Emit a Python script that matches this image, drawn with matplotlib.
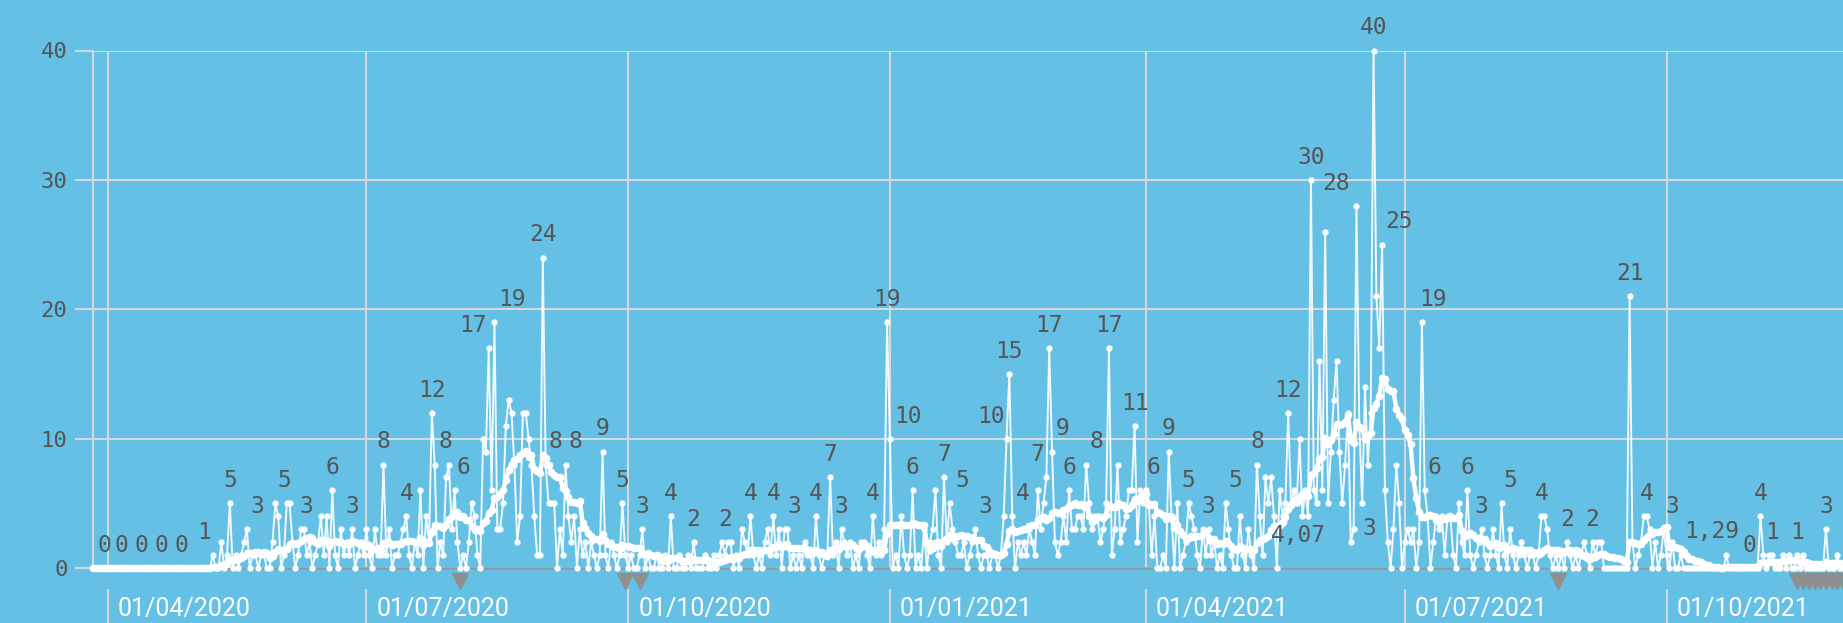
import numpy as np
import pandas as pd
import matplotlib
matplotlib.use("Agg")
import matplotlib.pyplot as plt
import matplotlib.dates as mdates
import matplotlib.transforms as mtransforms

# valeurs journalieres (du 27/03/2020 au 03/12/2021)
mar20 = [0, 0, 0, 0, 0]
apr20 = [0, 0, 0, 0, 0, 0, 0, 0, 0, 0, 0, 0, 0, 0, 0,
         0, 0, 0, 0, 0, 0, 0, 0, 0, 0, 0, 0, 0, 0, 0]
may20 = [0, 0, 0, 0, 0, 0, 0, 1, 0, 0, 2, 0, 1, 5, 0, 1,
         0, 1, 2, 3, 0, 1, 1, 0, 1, 1, 0, 0, 2, 5, 4]
jun20 = [0, 1, 5, 5, 2, 0, 1, 3, 3, 1, 2, 0, 1, 2, 4,
         1, 4, 0, 6, 1, 0, 3, 1, 2, 1, 3, 0, 1, 2, 1]
jul20 = [3, 1, 0, 3, 1, 1, 8, 1, 3, 0, 1, 1, 2, 3, 4, 1,
         0, 2, 1, 6, 0, 4, 2, 12, 8, 0, 2, 1, 7, 8, 3]
aug20 = [6, 2, 0, 1, 0, 2, 5, 4, 1, 0, 10, 9, 17, 6, 19, 3,
         3, 5, 11, 13, 12, 8, 2, 4, 12, 12, 10, 8, 4, 1, 1]
sep20 = [24, 8, 5, 5, 5, 0, 3, 1, 8, 4, 2, 4, 0, 3, 1,
         2, 0, 2, 1, 0, 1, 9, 1, 0, 2, 1, 0, 1, 5, 1]
oct20 = [0, 1, 0, 0, 1, 3, 0, 1, 0, 0, 1, 0, 0, 1, 0, 4,
         0, 0, 1, 0, 0, 1, 0, 2, 0, 0, 0, 1, 0, 0, 1]
nov20 = [0, 1, 2, 1, 2, 2, 0, 1, 0, 3, 2, 1, 4, 1, 0,
         1, 0, 2, 3, 1, 4, 1, 3, 0, 3, 3, 0, 1, 0, 1]
dec20 = [0, 2, 1, 1, 0, 4, 1, 0, 1, 1, 7, 1, 2, 0, 3, 2,
         1, 2, 0, 1, 0, 2, 2, 1, 0, 4, 1, 2, 1, 3, 19]
jan21 = [10, 0, 1, 0, 4, 1, 0, 1, 6, 0, 1, 0, 3, 0, 2, 3,
         6, 1, 0, 7, 2, 5, 3, 2, 1, 1, 2, 0, 1, 2, 3]
feb21 = [1, 0, 1, 1, 0, 1, 1, 0, 1, 4, 10, 15, 4, 0,
         2, 1, 2, 1, 3, 2, 1, 6, 3, 5, 7, 17, 9, 2]
mar21 = [1, 2, 4, 2, 6, 3, 3, 4, 4, 3, 8, 5, 3, 4, 4, 2,
         3, 5, 17, 1, 3, 8, 2, 3, 4, 6, 6, 11, 2, 6, 5]
apr21 = [6, 5, 1, 4, 0, 0, 1, 0, 9, 4, 0, 5, 0, 1, 2,
         5, 4, 3, 1, 0, 3, 1, 3, 1, 2, 0, 1, 0, 5, 3]
may21 = [1, 0, 0, 4, 1, 0, 3, 1, 0, 8, 4, 1, 7, 5, 7, 4,
         0, 6, 4, 5, 12, 5, 6, 5, 10, 4, 6, 4, 30, 6, 5]
jun21 = [16, 6, 26, 5, 9, 13, 16, 9, 5, 8, 12, 2, 3, 28, 11,
         5, 14, 8, 12, 40, 21, 17, 25, 6, 2, 0, 3, 8, 5, 0]
jul21 = [2, 3, 2, 3, 0, 2, 19, 6, 4, 0, 2, 4, 3, 4, 1, 4,
         4, 1, 0, 5, 2, 1, 6, 1, 0, 1, 2, 3, 1, 0, 1]
aug21 = [3, 1, 0, 5, 1, 0, 3, 1, 0, 1, 2, 1, 0, 1, 1, 0,
         1, 4, 4, 3, 1, 0, 1, 0, 1, 0, 2, 1, 0, 1, 0]
sep21 = [1, 2, 1, 0, 2, 1, 2, 2, 0, 0, 0, 0, 0, 0, 0,
         0, 0, 21, 2, 0, 1, 2, 4, 4, 3, 0, 2, 0, 1, 3]
oct21 = [1, 0, 2, 0, 0, 1, 0, 0, 0, 0, 0, 0, 0, 0, 0, 0,
         0, 0, 0, 0, 0, 1, 0, 0, 0, 0, 0, 0, 0, 0, 0]
nov21 = [0, 0, 4, 1, 0, 1, 1, 0, 0, 0, 1, 0, 1, 0, 0,
         1, 0, 1, 0, 0, 0, 0, 0, 0, 0, 3, 0, 0, 0, 1]
dec21 = [0, 0, 1]

# etiquettes des points
lab_dates = ["2020-03-31", "2020-04-06", "2020-04-13", "2020-04-20", "2020-04-27",
             "2020-05-08", "2020-05-14", "2020-05-20", "2020-06-03", "2020-06-09",
             "2020-06-19", "2020-06-26", "2020-07-07", "2020-07-15", "2020-07-24",
             "2020-07-30", "2020-08-01", "2020-08-13", "2020-08-15", "2020-09-01",
             "2020-09-02", "2020-09-09", "2020-09-22", "2020-09-29", "2020-10-06",
             "2020-10-16", "2020-10-24", "2020-11-05", "2020-11-13", "2020-11-21",
             "2020-11-26", "2020-12-06", "2020-12-11", "2020-12-15", "2020-12-26",
             "2020-12-31", "2021-01-01", "2021-01-09", "2021-01-20", "2021-01-22",
             "2021-01-31", "2021-02-11", "2021-02-12", "2021-02-13", "2021-02-25",
             "2021-02-26", "2021-02-27", "2021-03-05", "2021-03-11", "2021-03-19",
             "2021-03-28", "2021-03-30", "2021-04-09", "2021-04-16", "2021-04-23",
             "2021-04-29", "2021-05-10", "2021-05-21", "2021-05-29", "2021-06-14",
             "2021-06-13", "2021-06-20", "2021-06-23", "2021-07-07", "2021-07-08",
             "2021-07-23", "2021-07-28", "2021-08-04", "2021-08-18", "2021-08-27",
             "2021-09-05", "2021-09-18", "2021-09-24", "2021-09-30", "2021-10-30",
             "2021-11-03", "2021-11-07", "2021-11-16", "2021-11-26"]
lab_texts = ["0", "0", "0", "0", "0", "1", "5", "3", "5", "3",
             "6", "3", "8", "4", "12", "8", "6", "17", "19", "24",
             "8", "8", "9", "5", "3", "4", "2", "2", "4", "4",
             "3", "4", "7", "3", "4", "19", "10", "6", "7", "5",
             "3", "10", "15", "4", "7", "17", "9", "6", "8", "17",
             "11", "6", "9", "5", "3", "5", "8", "12", "30", "28",
             "3", "40", "25", "19", "6", "6", "3", "5", "4", "2",
             "2", "21", "4", "3", "0", "4", "1", "1", "3"]
# decalages (px) des etiquettes par rapport a la position standard
lab_dx = [0, 0, 0, 0, 0, -9, 0, 10, -2, 3,
          0, 0, 0, 0, 0, -4, 9, -16, 18, 0,
          10, 10, 0, 0, 0, 0, 0, -3, 0, 0,
          7, 0, 0, 0, 0, 0, 18, 0, 0, 13,
          10, -16, 0, 10, -9, 0, 10, 0, 10, 0,
          0, 13, 0, 0, 0, 10, 0, 0, 0, -20,
          16, 0, 17, 11, 10, 0, 0, 9, 0, 0,
          0, 0, 0, 9, 0, 0, 0, 0, 0]
lab_dy = [0] * 60 + [-22] + [0] * 18

# etiquettes de la moyenne mobile
ma_dates = ["2021-05-28", "2021-10-14"]
ma_texts = ["4,07", "1,29"]
ma_off = [(-10, -40), (8, 33)]

trimestres = ["2020-04-01", "2020-07-01", "2020-10-01", "2021-01-01",
              "2021-04-01", "2021-07-01", "2021-10-01"]
trim_labels = ["01/04/2020", "01/07/2020", "01/10/2020", "01/01/2021",
               "01/04/2021", "01/07/2021", "01/10/2021"]
evenements = ["2020-08-03", "2020-09-30", "2020-10-05", "2021-08-24",
              "2021-11-16", "2021-11-18", "2021-11-20", "2021-11-22",
              "2021-11-24", "2021-11-26", "2021-11-28", "2021-11-30",
              "2021-12-02"]

BG = "#64c0e4"
GRID = "#d3d9dc"
AXE = "#8e9ca4"
LAB = "#555555"
MONO = "DejaVu Sans Mono"

valeurs = (mar20 + apr20 + may20 + jun20 + jul20 + aug20 + sep20 + oct20 + nov20
           + dec20 + jan21 + feb21 + mar21 + apr21 + may21 + jun21 + jul21 + aug21
           + sep21 + oct21 + nov21 + dec21)
jours = pd.date_range("2020-03-27", periods=len(valeurs), freq="D")
serie = pd.Series(valeurs, index=jours, dtype=float)
moyenne = serie.rolling(14, min_periods=1).mean()

W, H = 1843, 623
PX = 72 / 100  # px -> points
fig = plt.figure(figsize=(W / 100, H / 100), dpi=100, facecolor=BG)
ax = fig.add_axes([93.3 / W, 55 / H, 1 - 93.3 / W, 517.5 / H])
ax.set_facecolor(BG)

x0 = mdates.date2num(pd.Timestamp("2020-03-27"))
ax.set_xlim(x0, x0 + 1749.7 / 2.845)
ax.set_ylim(0, 40)

ax.set_yticks([0, 10, 20, 30, 40])
ax.set_xticks([mdates.date2num(pd.Timestamp(d)) for d in trimestres])
ax.grid(True, color=GRID, lw=1.5)
ax.set_axisbelow(True)
ax.tick_params(axis="x", length=0, labelbottom=False)
ax.tick_params(axis="y", length=13, width=1.5, color=GRID, pad=5.5,
               labelsize=16, labelcolor=LAB)
for t in ax.get_yticklabels():
    t.set_fontfamily(MONO)
for s in ["top", "right"]:
    ax.spines[s].set_visible(False)
ax.spines["left"].set_color(GRID)
ax.spines["left"].set_linewidth(1.5)
ax.spines["bottom"].set_color(AXE)
ax.spines["bottom"].set_linewidth(1.8)

ax.plot(jours, serie.values, color="white", lw=1.4, marker="o", ms=3.6,
        alpha=0.9, zorder=3, clip_on=False)
ax.plot(jours, moyenne.values, color="white", lw=3.2, marker="o", ms=4.5,
        zorder=4, clip_on=False)

for d, t, dx, dy in zip(lab_dates, lab_texts, lab_dx, lab_dy):
    ts = pd.Timestamp(d)
    ax.annotate(t, (mdates.date2num(ts), serie[ts]), xytext=(dx * PX, 8 + dy * PX),
                textcoords="offset points", ha="center", va="bottom",
                fontsize=16.5, family=MONO, color=LAB, annotation_clip=False, zorder=6)

for d, t, (dx, dy) in zip(ma_dates, ma_texts, ma_off):
    ts = pd.Timestamp(d)
    ax.annotate(t, (mdates.date2num(ts), moyenne[ts]), xytext=(dx * PX, dy * PX),
                textcoords="offset points", ha="center", va="center",
                fontsize=16.5, family=MONO, color=LAB, annotation_clip=False, zorder=6)

trans = mtransforms.blended_transform_factory(ax.transData, ax.transAxes)
for d, t in zip(trimestres, trim_labels):
    xd = mdates.date2num(pd.Timestamp(d))
    ax.plot([xd, xd], [-0.0425, -0.11], transform=trans, color=GRID, lw=1.5,
            clip_on=False)
    ax.annotate(t, (xd, -0.079), xycoords=trans, xytext=(7.2, 0),
                textcoords="offset points", ha="left", va="center",
                color="white", fontsize=18, family="Roboto", annotation_clip=False)

ev = [mdates.date2num(pd.Timestamp(d)) for d in evenements]
ax.plot(ev, [-0.026] * len(ev), transform=trans, ls="none", marker="v", ms=11,
        color="#8f8f8f", clip_on=False)

fig.savefig("out.png", dpi=100, facecolor=BG)
